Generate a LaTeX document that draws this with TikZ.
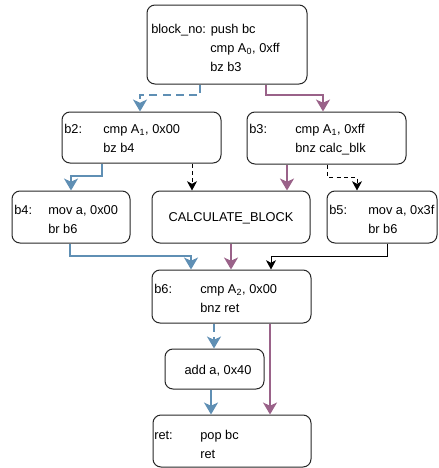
\documentclass[tikz,border=0pt]{standalone}
\usepackage{fontspec}
\setmainfont{Liberation Sans}
\usetikzlibrary{arrows.meta}
\definecolor{cblue}{HTML}{5F8FB4}
\definecolor{cpurp}{HTML}{9A6289}
\begin{document}
\begin{tikzpicture}[x=0.75pt,y=-0.75pt,
  box/.style={draw=black!85,line width=0.75pt,rounded corners=6pt,inner sep=0pt},
  txt/.style={inner sep=0pt,anchor=base west,font=\fontsize{9.6pt}{11pt}\selectfont},
  ctxt/.style={inner sep=0pt,anchor=center,font=\fontsize{9.6pt}{11pt}\selectfont},
  bl/.style={draw=cblue,line width=1.6pt,-{Stealth[length=9pt,width=10.5pt,inset=2.5pt]}},
  pu/.style={draw=cpurp,line width=1.6pt,-{Stealth[length=9pt,width=10.5pt,inset=2.5pt]}},
  bk/.style={draw=black,line width=0.75pt,-{Stealth[length=7pt,width=7.5pt,inset=2pt]}},
  dsh/.style={dash pattern=on 6pt off 4pt},
  dshk/.style={dash pattern=on 3pt off 2.5pt}]
\useasboundingbox (0,0) rectangle (439,468);
% boxes
\node[box,minimum width=160*0.75pt,minimum height=79*0.75pt] (bn) at (227,44.5) {};
\node[box,minimum width=159*0.75pt,minimum height=51*0.75pt] (b2) at (141.5,137.5) {};
\node[box,minimum width=159*0.75pt,minimum height=52*0.75pt] (b3) at (326.5,138) {};
\node[box,minimum width=118*0.75pt,minimum height=52*0.75pt] (b4) at (71,217) {};
\node[box,minimum width=158*0.75pt,minimum height=52*0.75pt] (calc) at (231,217) {};
\node[box,minimum width=110*0.75pt,minimum height=52*0.75pt] (b5) at (382,217) {};
\node[box,minimum width=159*0.75pt,minimum height=53*0.75pt] (b6) at (231.5,296.5) {};
\node[box,minimum width=99*0.75pt,minimum height=40*0.75pt] (add) at (214.5,369) {};
\node[box,minimum width=158*0.75pt,minimum height=52*0.75pt] (ret) at (232,441) {};
% texts
\node[txt] (tbn1) at (151,33) {block\_no: push bc};
\node[txt] (tbn2) at (210,52) {cmp A\textsubscript{0}, 0xff};
\node[txt] (tbn3) at (210,71) {bz b3};
\node[txt] (tb2l) at (64,133) {b2:};
\node[txt] (tb21) at (103,133) {cmp A\textsubscript{1}, 0x00};
\node[txt] (tb22) at (103,152) {bz b4};
\node[txt] (tb3l) at (249,133) {b3:};
\node[txt] (tb31) at (295,133) {cmp A\textsubscript{1}, 0xff};
\node[txt] (tb32) at (295,152) {bnz calc\_blk};
\node[txt] (tb4l) at (14,214) {b4:};
\node[txt] (tb41) at (48,214) {mov a, 0x00};
\node[txt] (tb42) at (48,233) {br b6};
\node[ctxt] (tcalc) at (231,218) {CALCULATE\_BLOCK};
\node[txt] (tb5l) at (329,214) {b5:};
\node[txt] (tb51) at (368,214) {mov a, 0x3f};
\node[txt] (tb52) at (368,233) {br b6};
\node[txt] (tb6l) at (154,293) {b6:};
\node[txt] (tb61) at (200,293) {cmp A\textsubscript{2}, 0x00};
\node[txt] (tb62) at (200,312) {bnz ret};
\node[ctxt] (tadd) at (218,371) {add a, 0x40};
\node[txt] (tretl) at (154,439) {ret:};
\node[txt] (tret1) at (200,439) {pop bc};
\node[txt] (tret2) at (200,458) {ret};
% connectors
\draw[bl,dsh] (bn.south -| 200,0) -- (200,95) -| (b2.north -| 140,0);
\draw[pu] (bn.south -| 266,0) -- (266,95) -| (b3.north -| 323,0);
\draw[bl] (b2.south -| 102,0) -- (102,176) -| (b4.north -| 71,0);
\draw[bk,dshk] (b2.south -| 192,0) -- (calc.north -| 192,0);
\draw[pu] (b3.south -| 287,0) -- (calc.north -| 287,0);
\draw[bk,dshk] (b3.south -| 327,0) -- (327,177) -| (b5.north -| 357,0);
\draw[bl] (b4.south -| 70,0) -- (70,256) -| (b6.north -| 191,0);
\draw[pu] (calc.south -| 231,0) -- (b6.north -| 231,0);
\draw[bk] (b5.south -| 387,0) -- (387,256) -| (b6.north -| 271,0);
\draw[bl,dsh] (b6.south -| 214,0) -- (add.north -| 214,0);
\draw[pu] (b6.south -| 270,0) -- (ret.north -| 270,0);
\draw[bl] (add.south -| 211,0) -- (ret.north -| 211,0);
\end{tikzpicture}
\end{document}
